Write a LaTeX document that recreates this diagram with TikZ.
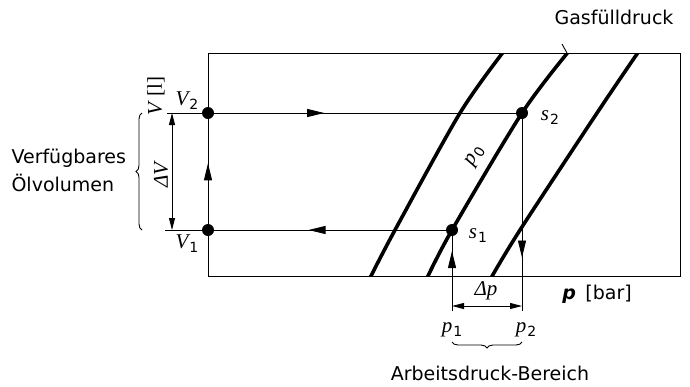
\documentclass[tikz,border=0pt]{standalone}
\usepackage{fontspec}
\setmainfont{DejaVu Sans}
\newfontfamily\serfont{Liberation Serif}
\usetikzlibrary{arrows.meta,decorations.markings,decorations.pathreplacing}
\newcommand{\mvar}[2]{{\serfont\itshape #1}\kern1pt\raisebox{-0.35ex}{\fontsize{14}{14}\selectfont #2}}
\tikzset{thinline/.style={line width=0.9pt},
  isoline/.style={line width=3.6pt},
  statept/.style={circle,fill=black,inner sep=0pt,minimum size=12pt},
  txt/.style={font=\fontsize{19}{28}\selectfont},
  sym/.style={font=\fontsize{21}{24}\selectfont,inner sep=1pt},
  midtip/.style={postaction={decorate},
    decoration={markings,mark=at position #1 with {\arrow{Triangle[length=17pt,width=8pt]}}}},
  dimline/.style={thinline,{Triangle[length=12pt,width=6pt]}-{Triangle[length=12pt,width=6pt]}},
  curly/.style={thinline,decorate,decoration={brace,amplitude=6pt}},
}

\begin{document}
\begin{tikzpicture}[x=1pt,y=-1pt]
  \useasboundingbox (0,0) rectangle (690,386);
  \draw[line width=1pt] (208,53) rectangle (680,276);
  % isobars
  \begin{scope}
    \clip (208,53) rectangle (680,276);
    \draw[isoline] plot[smooth] coordinates {(370,278) (395,230) (460,113) (504,51)};
    \draw[isoline] plot[smooth] coordinates {(427,278) (452,230) (522,113) (569,51)};
    \draw[isoline] plot[smooth] coordinates {(491,278) (520,230) (597,113) (639,51)};
  \end{scope}
  % state points
  \node[statept] (V2) at (208,113) {};
  \node[statept] (V1) at (208,230) {};
  \node[statept] (s2) at (522,113) {};
  \node[statept] (s1) at (452,230) {};
  \coordinate (v2end) at (167,113);
  \coordinate (v1end) at (165,230);
  \coordinate (p1foot) at (452,311);
  \coordinate (p2foot) at (522,311);
  \draw[thinline] (v2end) -- (V2.center);
  \draw[thinline,midtip=0.37] (V2.center) -- (s2.center);
  \draw[thinline,midtip=0.5] (s1.center) -- (v1end);
  \draw[thinline,midtip=0.57] (V1.center) -- (V2.center);
  \draw[thinline,midtip=0.73] (s2.center) -- (p2foot);
  \draw[thinline,midtip=0.74] (p1foot) -- (s1.center);
  % dimensions
  \coordinate (dvtop) at (172,113);
  \coordinate (dvbot) at (172,230);
  \coordinate (dpl) at (452,306);
  \coordinate (dpr) at (522,306);
  \draw[dimline] (dvtop) -- (dvbot);
  \draw[dimline] (dpl) -- (dpr);
  % labels
  \node[sym,rotate=90] (vaxis) at (156,96) {{\serfont\itshape V} {\serfont[l]}};
  \node[sym,rotate=90] (dV) at (161,175) {{\serfont\itshape ΔV}};
  \node[sym] (V2lbl) at (187,101) {\mvar{V}{2}};
  \node[sym] (V1lbl) at (187,244) {\mvar{V}{1}};
  \node[sym] (s2lbl) at (550,118) {\mvar{s}{2}};
  \node[sym] (s1lbl) at (478,236) {\mvar{s}{1}};
  \node[sym,rotate=59] (p0lbl) at (475,156) {\mvar{p}{0}};
  \node[sym] (dplbl) at (486,291) {{\serfont\itshape Δp}};
  \node[sym] (p1lbl) at (452,330) {\mvar{p}{1}};
  \node[sym] (p2lbl) at (526,330) {\mvar{p}{2}};
  \node[txt] (paxis) at (597,294) {\textbf{\textit{p}}\enspace[bar]};
  \node[txt] (gas) at (614,17) {Gasfülldruck};
  \coordinate (gastick) at (562,44);
  \coordinate (gasend) at (567,53);
  \draw[thinline] (gastick) -- (gasend);
  \node[txt,anchor=west,align=left] (oil) at (8,170) {Verfügbares\\Ölvolumen};
  \node[txt] (range) at (490,373) {Arbeitsdruck-Bereich};
  % braces
  \coordinate (brtop) at (142,113);
  \coordinate (brbot) at (142,230);
  \coordinate (pbl) at (452,342);
  \coordinate (pbr) at (522,342);
  \draw[curly] (brbot) -- (brtop);
  \draw[curly] (pbr) -- (pbl);
\end{tikzpicture}
\end{document}
